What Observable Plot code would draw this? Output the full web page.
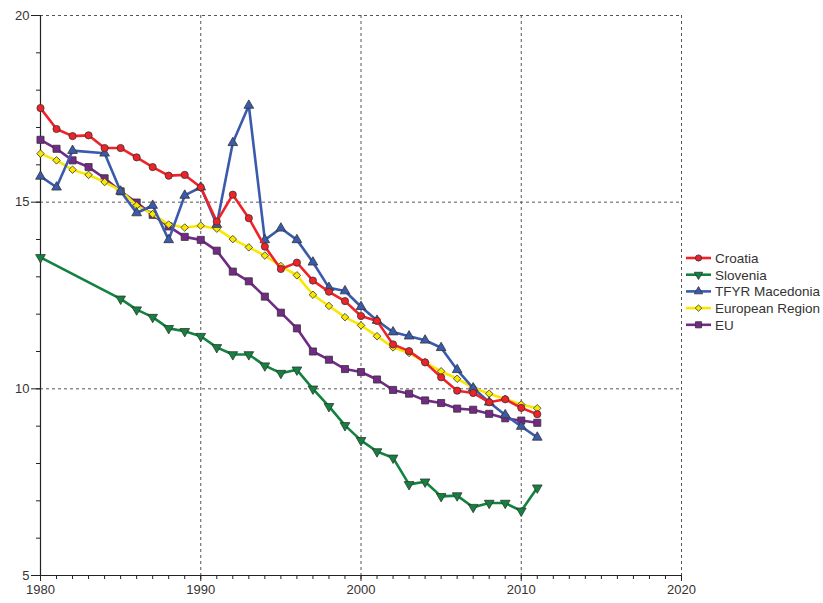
<!DOCTYPE html>
<html>
<head>
<meta charset="utf-8">
<script src="https://cdn.jsdelivr.net/npm/d3@7"></script>
<script src="https://cdn.jsdelivr.net/npm/@observablehq/plot@0.6"></script>
<style>
  body { margin: 0; background: #fff; }
  #chart { position: relative; width: 823px; height: 603px; }
  #legend { position: absolute; left: 0; top: 0; pointer-events: none; }
</style>
</head>
<body>
<div id="chart"></div>
<script>
// Years of observation
const years = [1980,1981,1982,1983,1984,1985,1986,1987,1988,1989,
               1990,1991,1992,1993,1994,1995,1996,1997,1998,1999,
               2000,2001,2002,2003,2004,2005,2006,2007,2008,2009,
               2010,2011];

// Series values (null = no observation that year)
const croatia   = [17.52,16.96,16.77,16.79,16.45,16.45,16.20,15.94,15.71,15.73,
                   15.40,14.48,15.20,14.57,13.81,13.21,13.38,12.90,12.60,12.35,
                   11.95,11.82,11.19,11.01,10.71,10.31,9.95,9.89,9.64,9.72,
                   9.49,9.32];
const slovenia  = [13.52,null,null,null,null,12.41,12.12,11.92,11.62,11.54,
                   11.41,11.11,10.92,10.92,10.62,10.42,10.51,10.00,9.53,9.02,
                   8.62,8.32,8.15,7.44,7.51,7.12,7.14,6.83,6.94,6.94,
                   6.73,7.35];
const macedonia = [15.69,15.40,16.38,null,16.31,15.29,14.71,14.91,13.99,15.18,
                   15.40,14.40,16.59,17.59,13.99,14.30,13.99,13.39,12.71,12.62,
                   12.20,11.83,11.52,11.41,11.30,11.10,10.51,10.02,9.64,9.30,
                   8.99,8.70];
const europe    = [16.30,16.12,15.87,15.73,15.54,15.31,14.91,14.68,14.40,14.32,
                   14.37,14.29,14.01,13.79,13.57,13.29,13.04,12.52,12.22,11.92,
                   11.70,11.41,11.11,10.96,10.71,10.47,10.27,10.03,9.87,9.73,
                   9.58,9.48];
const eu        = [16.67,16.43,16.12,15.94,15.64,15.29,14.99,14.66,14.35,14.07,
                   13.99,13.70,13.14,12.88,12.47,12.04,11.62,11.00,10.78,10.53,
                   10.45,10.25,9.97,9.87,9.69,9.62,9.47,9.44,9.33,9.21,
                   9.15,9.09];

// Axis ticks and labels
const xMajor = [1980, 1990, 2000, 2010, 2020];
const yMajor = [5, 10, 15, 20];
const xGrid = [1990, 2000, 2010, 2020];
const yGrid = [10, 15, 20];

// Legend order with styling
const series = [
  {name: "Croatia",          values: croatia,   color: "#f02228", symbol: "circle",   rotate: 0,   r: 3.6, lsym: d3.symbolCircle},
  {name: "Slovenia",         values: slovenia,  color: "#12823f", symbol: "triangle", rotate: 180, r: 3.6, lsym: d3.symbolTriangle},
  {name: "TFYR Macedonia",   values: macedonia, color: "#3a5aab", symbol: "triangle", rotate: 0,   r: 3.6, lsym: d3.symbolTriangle},
  {name: "European Region",  values: europe,    color: "#f8e800", symbol: "diamond2", rotate: 0,   r: 3.4, lsym: d3.symbolDiamond2},
  {name: "EU",               values: eu,        color: "#722a86", symbol: "square",   rotate: 0,   r: 4.0, lsym: d3.symbolSquare}
];

const rowsFor = s => years
  .map((year, i) => ({series: s.name, year, value: s.values[i]}))
  .filter(d => d.value != null);

// Draw bottom-most series first so Croatia sits on top
const drawOrder = ["EU", "European Region", "TFYR Macedonia", "Slovenia", "Croatia"];
const seriesMarks = drawOrder.flatMap(name => {
  const s = series.find(d => d.name === name);
  const rows = rowsFor(s);
  return [
    Plot.line(rows, {x: "year", y: "value", stroke: s.color, strokeWidth: 2.6, curve: "linear"}),
    Plot.dot(rows, {x: "year", y: "value", symbol: () => s.symbol, r: s.r, fill: s.color,
                    stroke: "#333", strokeWidth: 0.8, rotate: s.rotate})
  ];
});

const gridStyle = {stroke: "#555", strokeDasharray: "3,3", strokeWidth: 1};

const chart = Plot.plot({
  width: 823,
  height: 603,
  marginLeft: 40,
  marginRight: 142,
  marginTop: 15,
  marginBottom: 28,
  style: {fontFamily: "'Liberation Sans', Arial, sans-serif", fontSize: "13px", color: "#333", background: "#fff"},
  x: {domain: [1980, 2020]},
  y: {domain: [5, 20]},
  symbol: {type: "identity"},
  marks: [
    Plot.ruleY(yGrid, gridStyle),
    Plot.ruleX(xGrid, gridStyle),
    Plot.axisY(d3.range(5, 21), {tickSize: 4, tickFormat: null, text: null, label: null, stroke: "#222"}),
    Plot.axisY(yMajor, {tickSize: 9, tickPadding: 2, tickFormat: d => String(d), label: null, stroke: "#222", fill: "#333"}),
    Plot.axisX(d3.range(1980, 2021), {tickSize: 4, text: null, label: null, stroke: "#222"}),
    Plot.axisX(xMajor, {tickSize: 6, tickPadding: 3, tickFormat: d => String(d), label: null, stroke: "#222", fill: "#333"}),
    Plot.ruleX([1980], {stroke: "#222", strokeWidth: 1.2}),
    Plot.ruleY([5], {stroke: "#222", strokeWidth: 1.2}),
    ...seriesMarks
  ]
});

const container = document.getElementById("chart");
container.appendChild(chart);

// Legend on the right-hand side
const legend = d3.select(container).append("svg")
  .attr("id", "legend")
  .attr("width", 823)
  .attr("height", 603);

series.forEach((s, i) => {
  const y = 258 + i * 16.7;
  const g = legend.append("g");
  g.append("line")
    .attr("x1", 686).attr("x2", 711).attr("y1", y).attr("y2", y)
    .attr("stroke", s.color).attr("stroke-width", 2.6);
  g.append("path")
    .attr("d", d3.symbol(s.lsym, s.r * s.r * Math.PI * 0.75)())
    .attr("transform", `translate(698.5,${y}) rotate(${s.rotate})`)
    .attr("fill", s.color).attr("stroke", "#333").attr("stroke-width", 0.8);
  g.append("text")
    .attr("x", 715).attr("y", y + 5)
    .attr("font-family", "'Liberation Sans', Arial, sans-serif")
    .attr("font-size", 13.5)
    .attr("fill", "#333")
    .text(s.name);
});
</script>
</body>
</html>
